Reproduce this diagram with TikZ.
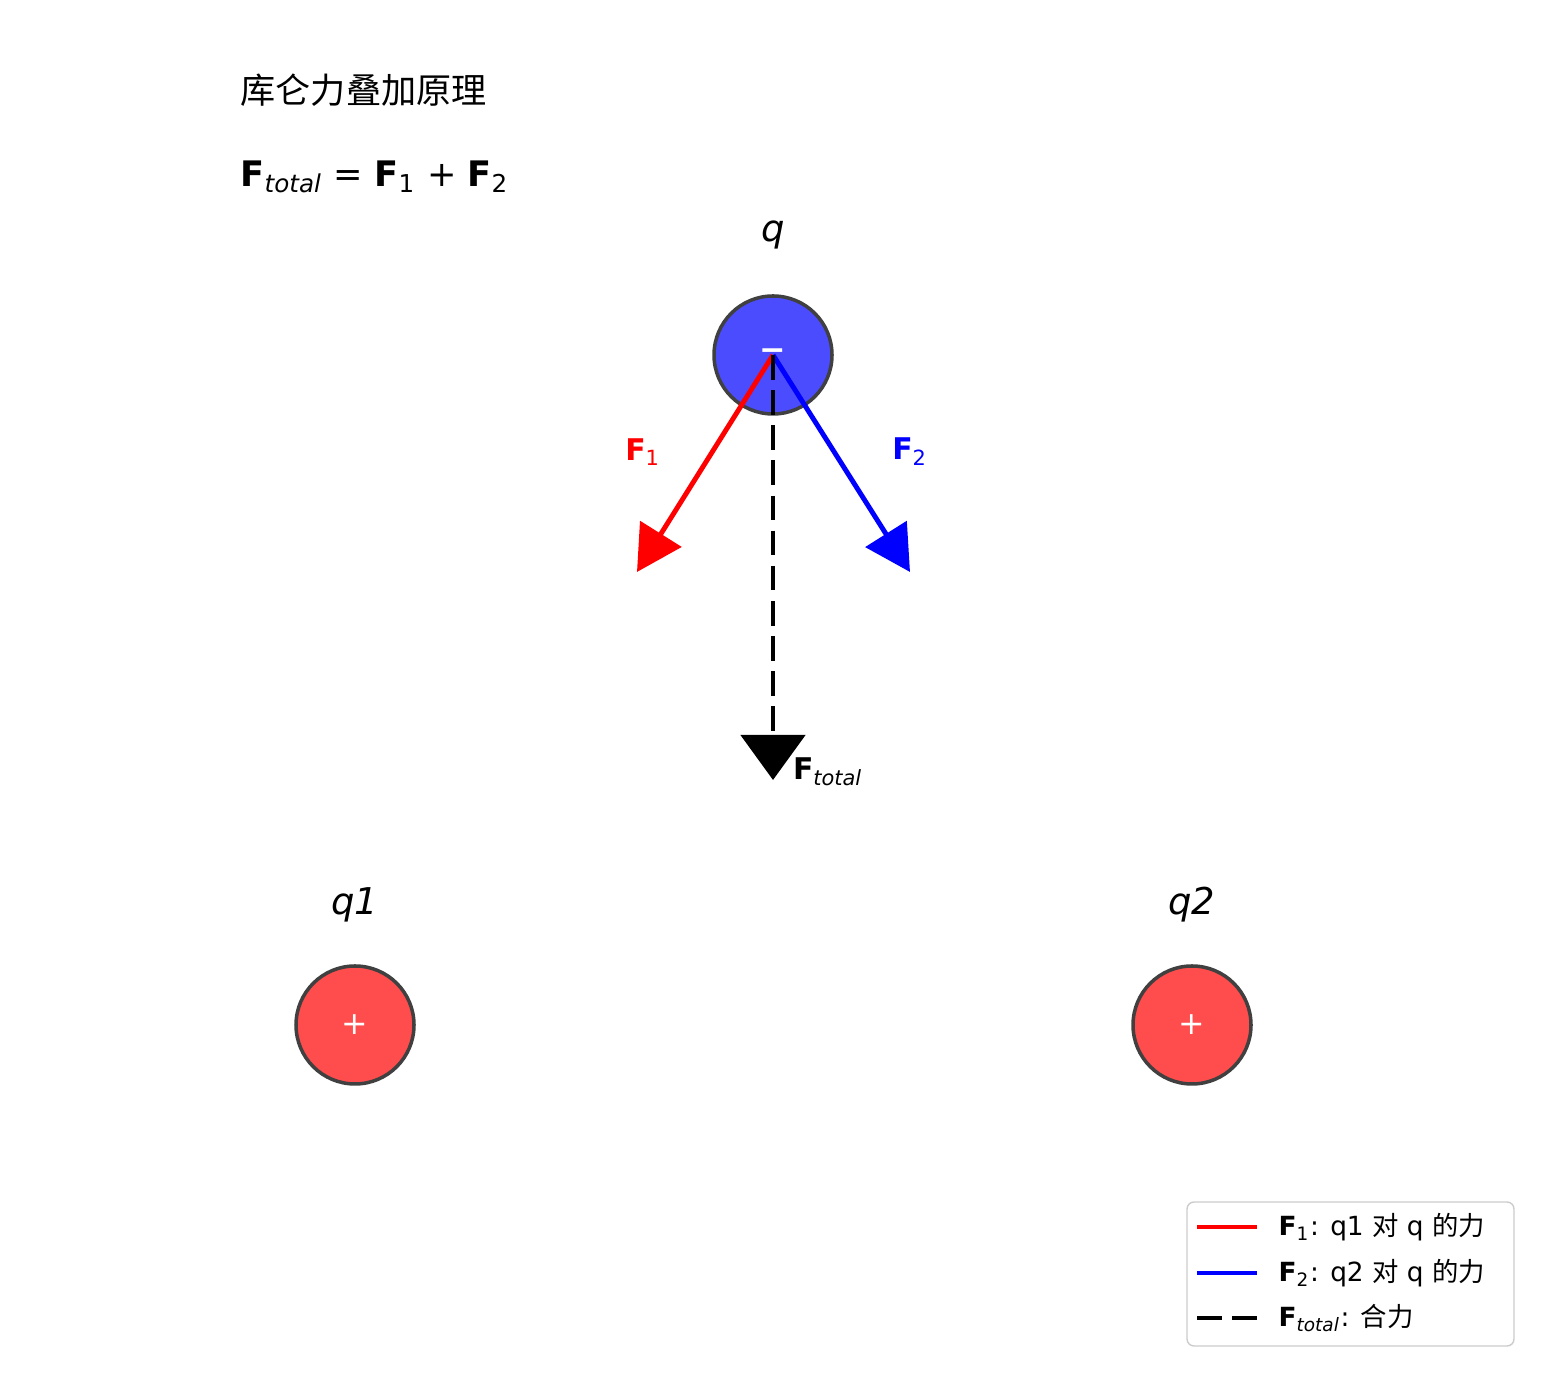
\documentclass[tikz,border=0pt]{standalone}
\usepackage{fontspec}
\setmainfont{DejaVu Sans}
\newfontfamily\cjk{Noto Sans CJK SC}
\usetikzlibrary{arrows.meta}
\tikzset{
  charge/.style={circle, draw=black!75, line width=1pt, minimum size=1.18cm, inner sep=0pt, text=white, font=\fontsize{9}{9}\selectfont},
  force/.style={line width=1.4pt, -{Triangle[length=0.45cm,width=0.48cm]}},
  lbl/.style={font=\fontsize{10.5}{12}\selectfont\itshape},
}
\newcommand{\vF}[1]{\textbf{F}\textsubscript{#1}}
\begin{document}
\begin{tikzpicture}
\useasboundingbox (0,0) rectangle (15.47,13.8);
% title and formula
\node[anchor=west, inner sep=0pt, font=\fontsize{10}{12}\selectfont\cjk] (title) at (2.4,12.9) {库仑力叠加原理};
\node[anchor=west, inner sep=0pt, font=\fontsize{10}{12}\selectfont] (eq) at (2.4,12.03)
  {\vF{\itshape total} = \vF{1} + \vF{2}};
% charges
\node[charge, fill=blue!70] (q) at (7.73,10.25) {\textbf{−}};
\node[charge, fill=red!70] (q1) at (3.55,3.55) {+};
\node[charge, fill=red!70] (q2) at (11.92,3.55) {+};
\node[lbl] (lq) at (7.73,11.45) {q};
\node[lbl] (lq1) at (3.55,4.75) {q1};
\node[lbl] (lq2) at (11.92,4.75) {q2};
% forces
\coordinate (t1) at (6.37,8.08);
\coordinate (t2) at (9.10,8.08);
\coordinate (tt) at (7.73,6.00);
\draw[force, red] (q.center) -- (t1);
\draw[force, blue] (q.center) -- (t2);
\draw[force, black, dashed, dash pattern=on 7pt off 3pt, -{Triangle[length=0.45cm,width=0.64cm]}] (q.center) -- (tt);
\node[red, font=\fontsize{8.5}{10}\selectfont] (lf1) at (6.43,9.28) {\vF{1}};
\node[blue, font=\fontsize{8.5}{10}\selectfont] (lf2) at (9.10,9.28) {\vF{2}};
\node[font=\fontsize{8.5}{10}\selectfont] (lft) at (8.28,6.08) {\vF{\itshape total}};
% legend
\draw[black!20, rounded corners=2pt, fill=white] (11.87,0.34) rectangle (15.14,1.78);
\draw[red, line width=1.4pt] (11.97,1.53) -- (12.57,1.53);
\draw[blue, line width=1.4pt] (11.97,1.07) -- (12.57,1.07);
\draw[black, line width=1.4pt, dash pattern=on 7pt off 3pt] (11.97,0.62) -- (12.57,0.62);
\begin{scope}[every node/.style={anchor=west, inner sep=0pt, font=\fontsize{7.5}{9}\selectfont}]
\node (e1) at (12.78,1.53) {\vF{1}: q1 {\cjk 对} q {\cjk 的力}};
\node (e2) at (12.78,1.07) {\vF{2}: q2 {\cjk 对} q {\cjk 的力}};
\node (e3) at (12.78,0.62) {\vF{\itshape total}: {\cjk 合力}};
\end{scope}
\end{tikzpicture}
\end{document}
